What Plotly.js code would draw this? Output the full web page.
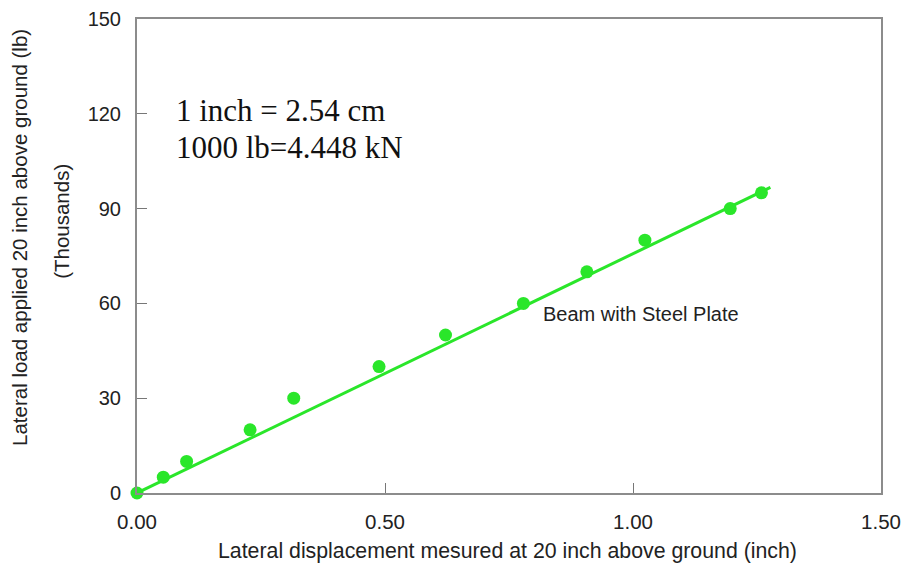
<!DOCTYPE html>
<html>
<head>
<meta charset="utf-8">
<script src="https://cdn.plot.ly/plotly-3.0.1.min.js"></script>
<style>html,body{margin:0;padding:0;background:#fff;}#chart{width:904px;height:573px;}</style>
</head>
<body>
<div id="chart"></div>
<script>
// Measured points: lateral displacement (inch) vs lateral load (thousands lb)
const displacement = [0.00, 0.053, 0.10, 0.228, 0.316, 0.488, 0.622, 0.779, 0.907, 1.024, 1.196, 1.259];
const load = [0, 5, 10, 20, 30, 40, 50, 60, 70, 80, 90, 95];
// Fitted line end points
const fitX = [0, 1.277];
const fitY = [0, 96.7];
const xTickVals = [0, 0.5, 1.0, 1.5];
const xTickText = ["0.00", "0.50", "1.00", "1.50"];
const yTickVals = [0, 30, 60, 90, 120, 150];
const yTickText = ["0", "30", "60", "90", "120", "150"];

const green = '#2ae62a';
const sans = 'Liberation Sans, Arial, sans-serif';
const serif = 'Liberation Serif, Times New Roman, serif';

const traces = [
  {x: fitX, y: fitY, mode: 'lines', type: 'scatter', line: {color: green, width: 3}, hoverinfo: 'skip', cliponaxis: false},
  {x: displacement, y: load, mode: 'markers', type: 'scatter', marker: {color: green, size: 13}, cliponaxis: false}
];

const layout = {
  width: 904, height: 573,
  margin: {l: 137, r: 23, t: 19, b: 80},
  paper_bgcolor: '#fff', plot_bgcolor: '#fff',
  showlegend: false,
  font: {family: sans, size: 21, color: '#222'},
  xaxis: {
    range: [0, 1.5], tickvals: xTickVals, ticktext: xTickText,
    showgrid: false, zeroline: false, showline: true, mirror: true,
    linecolor: '#8c8c8c', linewidth: 2,
    ticks: 'inside', ticklen: 10, tickcolor: '#777', tickwidth: 1,
    ticklabelstandoff: 9,
    tickfont: {family: sans, size: 20.5, color: '#222'}
  },
  yaxis: {
    range: [0, 150], tickvals: yTickVals, ticktext: yTickText,
    showgrid: false, zeroline: false, showline: true, mirror: true,
    linecolor: '#8c8c8c', linewidth: 2,
    ticks: 'inside', ticklen: 10, tickcolor: '#777', tickwidth: 1,
    ticklabelstandoff: 10,
    tickfont: {family: sans, size: 20, color: '#222'}
  },
  annotations: [
    {text: '1 inch = 2.54 cm', xref: 'x', yref: 'y', x: 0.074, y: 121, xanchor: 'left', yanchor: 'middle', showarrow: false, font: {family: serif, size: 31, color: '#111'}},
    {text: '1000 lb=4.448 kN', xref: 'x', yref: 'y', x: 0.074, y: 109.3, xanchor: 'left', yanchor: 'middle', showarrow: false, font: {family: serif, size: 31, color: '#111'}},
    {text: 'Beam with Steel Plate', xref: 'x', yref: 'y', x: 0.814, y: 56.5, xanchor: 'left', yanchor: 'middle', showarrow: false, font: {family: sans, size: 20, color: '#222'}},
    {text: 'Lateral displacement mesured at 20 inch above ground (inch)', xref: 'x', yref: 'paper', x: 0.746, y: 0, yshift: -58, xanchor: 'center', yanchor: 'middle', showarrow: false, font: {family: sans, size: 21.3, color: '#222'}},
    {text: 'Lateral load applied 20 inch above ground (lb)', xref: 'paper', yref: 'y', x: 0, xshift: -117, y: 80.7, xanchor: 'center', yanchor: 'middle', textangle: -90, showarrow: false, font: {family: sans, size: 20.5, color: '#222'}},
    {text: '(Thousands)', xref: 'paper', yref: 'y', x: 0, xshift: -75, y: 85.8, xanchor: 'center', yanchor: 'middle', textangle: -90, showarrow: false, font: {family: sans, size: 20.5, color: '#222'}}
  ]
};

Plotly.newPlot('chart', traces, layout, {displayModeBar: false, staticPlot: true});
</script>
</body>
</html>
